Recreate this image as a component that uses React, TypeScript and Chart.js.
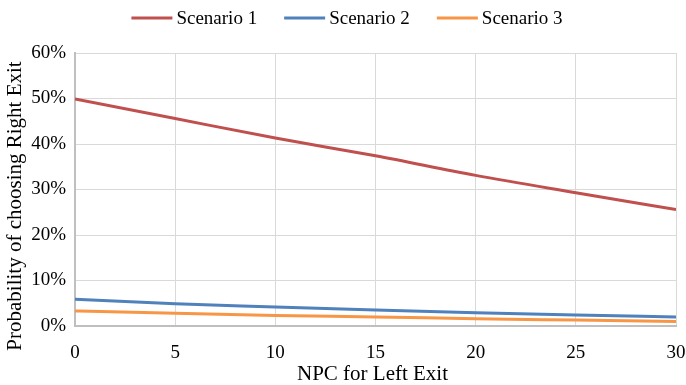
import React, { useEffect, useRef } from "react";
import { Chart, registerables } from "chart.js";

Chart.register(...registerables);

const xValues = [0, 5, 10, 15, 20, 25, 30];
const scenario1 = [49.9, 45.6, 41.3, 37.4, 33.1, 29.3, 25.6];
const scenario2 = [5.9, 4.9, 4.2, 3.5, 2.9, 2.4, 2.0];
const scenario3 = [3.3, 2.8, 2.3, 2.0, 1.6, 1.3, 1.0];
const seriesNames = ["Scenario 1", "Scenario 2", "Scenario 3"];
const seriesColors = ["#C0504D", "#4F81BD", "#F79646"];
const xTitle = "NPC for Left Exit";
const yTitle = "Probability of choosing Right Exit";

const FONT = "'Liberation Serif', 'Times New Roman', serif";

const decorPlugin = {
  id: "decor",
  afterDraw(chart: any) {
    const ctx = chart.ctx as CanvasRenderingContext2D;
    const area = chart.chartArea;
    ctx.save();
    ctx.font = `19px ${FONT}`;
    const lineLen = 41;
    const gapText = 4;
    const gapItem = 27;
    const widths = seriesNames.map((n) => ctx.measureText(n).width);
    const total =
      widths.reduce((a, w) => a + lineLen + gapText + w, 0) + gapItem * (seriesNames.length - 1);
    let x = chart.width / 2 + 4 - total / 2;
    const y = 18;
    seriesNames.forEach((n, i) => {
      ctx.strokeStyle = seriesColors[i];
      ctx.lineWidth = 3;
      ctx.beginPath();
      ctx.moveTo(x, y);
      ctx.lineTo(x + lineLen, y);
      ctx.stroke();
      ctx.fillStyle = "#000";
      ctx.textBaseline = "middle";
      ctx.textAlign = "left";
      ctx.fillText(n, x + lineLen + gapText, y + 1);
      x += lineLen + gapText + widths[i] + gapItem;
    });
    ctx.font = `21px ${FONT}`;
    ctx.fillStyle = "#000";
    ctx.textAlign = "center";
    ctx.textBaseline = "middle";
    ctx.fillText(xTitle, (area.left + area.right) / 2 - 3, 374);
    ctx.translate(15, 206);
    ctx.rotate(-Math.PI / 2);
    ctx.fillText(yTitle, 0, 0);
    ctx.restore();
  },
};

export default function App() {
  const ref = useRef<HTMLCanvasElement | null>(null);
  useEffect(() => {
    document.body.style.margin = "0";
    const all = [scenario1, scenario2, scenario3];
    const chart = new Chart(ref.current as HTMLCanvasElement, {
      type: "line",
      data: {
        datasets: all.map((s, i) => ({
          label: seriesNames[i],
          data: s.map((v, j) => ({ x: xValues[j], y: v })),
          borderColor: seriesColors[i],
          backgroundColor: seriesColors[i],
          borderWidth: 3,
          pointRadius: 0,
          pointHoverRadius: 0,
          cubicInterpolationMode: "monotone" as const,
          fill: false,
        })),
      },
      plugins: [decorPlugin],
      options: {
        animation: false,
        responsive: false,
        maintainAspectRatio: false,
        layout: { padding: { left: 0, right: 0, top: 53, bottom: 0 } },
        plugins: {
          tooltip: { enabled: false },
          legend: { display: false },
        },
        scales: {
          x: {
            type: "linear",
            min: 0,
            max: 30,
            ticks: { stepSize: 5, color: "#000", font: { family: FONT, size: 19 }, padding: 16 },
            grid: { color: "#D9D9D9", lineWidth: 1, drawTicks: false },
            border: { color: "#BFBFBF", width: 2 },
            afterFit: (scale: any) => {
              scale.height = 59;
              scale.paddingRight = 10;
              scale.paddingLeft = 10;
            },
          },
          y: {
            min: 0,
            max: 60,
            ticks: {
              stepSize: 10,
              color: "#000",
              font: { family: FONT, size: 19 },
              padding: 9,
              callback: (v: any) => v + "%",
            },
            grid: { color: "#D9D9D9", lineWidth: 1, drawTicks: false },
            border: { color: "#BFBFBF", width: 2 },
            afterFit: (scale: any) => {
              scale.width = 75;
            },
          },
        },
      },
    });
    return () => chart.destroy();
  }, []);
  return (
    <div style={{ width: 686, height: 385 }}>
      <canvas ref={ref} width={686} height={385} />
    </div>
  );
}
